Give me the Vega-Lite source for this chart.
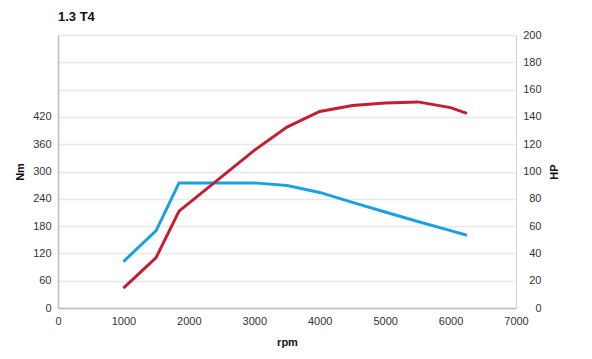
{
  "$schema": "https://vega.github.io/schema/vega-lite/v6.json",
  "autosize": "none",
  "width": 458,
  "height": 273,
  "padding": {"left": 58, "top": 35, "right": 76, "bottom": 51},
  "background": "white",
  "title": {"text": "1.3 T4", "anchor": "start", "frame": "group", "fontSize": 13, "fontWeight": "bold", "font": "Liberation Sans", "color": "#111", "offset": 5, "dx": 0},
  "config": {
    "view": {"stroke": null},
    "axis": {"labelFont": "Liberation Sans", "titleFont": "Liberation Sans", "labelFontSize": 11, "labelColor": "#333", "titleFontSize": 11, "titleFontWeight": "bold", "titleColor": "#111", "ticks": false, "domainColor": "#bdbdbd", "domainWidth": 1.5, "labelFlush": false}
  },
  "data": {"values": [
    {"rpm": 1000, "Nm": 102, "HP": 14.5},
    {"rpm": 1500, "Nm": 170, "HP": 37},
    {"rpm": 1850, "Nm": 275, "HP": 71},
    {"rpm": 3000, "Nm": 275, "HP": 115.5},
    {"rpm": 3500, "Nm": 269, "HP": 132.5},
    {"rpm": 4000, "Nm": 254, "HP": 144},
    {"rpm": 4500, "Nm": 232, "HP": 148.3},
    {"rpm": 5000, "Nm": 211, "HP": 150.2},
    {"rpm": 5500, "Nm": 190, "HP": 151},
    {"rpm": 6000, "Nm": 170, "HP": 146.8},
    {"rpm": 6250, "Nm": 160, "HP": 142.6}
  ]},
  "encoding": {
    "x": {"field": "rpm", "type": "quantitative", "title": "rpm", "scale": {"domain": [0, 7000], "nice": false},
      "axis": {"values": [0,1000,2000,3000,4000,5000,6000,7000], "format": "d", "grid": false, "labelPadding": 7, "titlePadding": 10}}
  },
  "layer": [
    {
      "mark": {"type": "line", "color": "#1ba1e2", "strokeWidth": 3},
      "encoding": {
        "y": {"field": "Nm", "type": "quantitative", "title": "Nm", "scale": {"domain": [0, 600], "nice": false},
          "axis": {"orient": "left", "values": [0,60,120,180,240,300,360,420], "grid": false, "labelPadding": 7, "titlePadding": 7}}
      }
    },
    {
      "mark": {"type": "line", "color": "#c41e32", "strokeWidth": 3},
      "encoding": {
        "y": {"field": "HP", "type": "quantitative", "title": "HP", "scale": {"domain": [0, 200], "nice": false},
          "axis": {"orient": "right", "values": [0,20,40,60,80,100,120,140,160,180,200], "grid": true, "gridColor": "#e8e8e8", "gridWidth": 1.5, "domainColor": "#d0d0d0", "domainWidth": 1, "labelAlign": "right", "labelPadding": 25, "titleAngle": 270, "titlePadding": 18}}
      }
    }
  ],
  "resolve": {"scale": {"y": "independent"}}
}
